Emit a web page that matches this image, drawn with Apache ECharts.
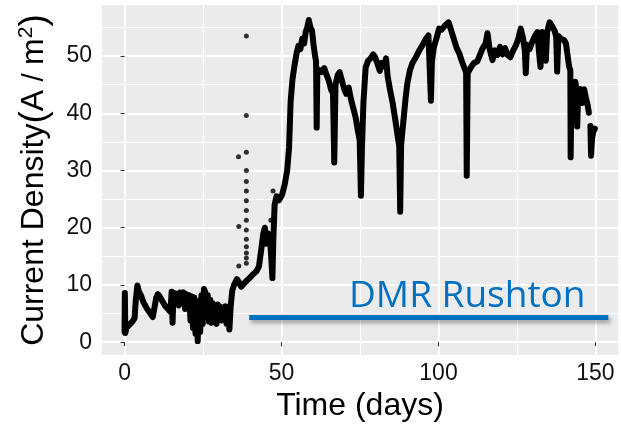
<!DOCTYPE html>
<html>
<head>
<meta charset="utf-8">
<script src="https://cdn.jsdelivr.net/npm/echarts@6/dist/echarts.min.js"></script>
<style>
html,body{margin:0;padding:0;background:#fff;}
#chart{width:621px;height:427px;}
</style>
</head>
<body>
<div id="chart"></div>
<script>
// ---- data ----
const xTicks = [0, 50, 100, 150];
const yTicks = [0, 10, 20, 30, 40, 50];
const xRange = [-7.5, 157.5];
const yRange = [-2.43, 59.1];

// main current-density trace [day, A/m2]
const mainSeries = [
 [0,1.8],[0.1,8.6],[0.25,1.6],[0.6,2.5],[1.2,2.4],[1.8,3.2],[2.5,3.6],[3.2,4.2],[3.6,7.5],[4.1,9.9],[4.6,8.8],[5.2,8.2],
 [6,7],[7,6],[8,5.2],[9,4.4],[9.6,4.6],[10.1,7.8],[10.6,8.4],[11.2,8],[12,7.2],[13,6.3],[14,5.7],[14.6,5.3],
 [15,8.8],[15.3,3.4],[15.6,8.6],[16.2,8.9],[16.8,8.4],[17.3,6.4],[17.7,8.7],[18.3,7.6],[18.8,8.7],[19.3,5.8],[19.7,8.4],
 [20.2,6.8],[20.6,8.2],[21,3.8],[21.4,8.0],[21.8,2.5],[22.2,7.8],[22.6,1.5],[23,6.5],[23.3,0.2],[23.7,7.2],[24.1,1.8],
 [24.5,8.2],[24.9,3.2],[25.3,9.3],[25.7,8.8],[26.1,4.8],[26.5,8.2],[26.9,3.6],[27.3,7.4],[27.7,3.4],[28.1,6.8],[28.5,4.2],
 [28.9,6.4],[29.3,3.2],[29.7,6.6],[30.1,4.6],[30.5,6.2],[30.9,3.8],[31.3,5.8],[31.7,4.4],[32.1,6.3],[32.5,3.2],[32.9,5.5],
 [33.4,2.2],[33.8,6.2],[34.3,9],[35,10.2],[35.8,11],[36.3,10.6],[37.2,9.7],[38,10.2],[39,10.8],[40,11.3],[41,11.9],
 [42,12.4],[42.8,13.2],[43.5,16],[44.2,19],[44.7,20],[45.2,17.2],[45.7,19],[46.3,18.4],[46.7,15],[47.1,11.2],[47.4,18],
 [47.8,24],[48.4,25.5],[49.2,24.8],[50.2,25.8],[51,27.5],[51.8,30],[52.4,34],[52.9,42],[53.5,46],[54.1,48.2],[54.8,50.5],
 [55.4,51.8],[56,51.2],[56.6,53],[57.2,52.2],[57.7,54.2],[58.2,55],[58.7,56.3],[59.2,55],[59.7,54.5],[60.2,52],[60.7,50],
 [61,49],[61.2,37.5],[61.4,47],[62,47.6],[62.8,47.2],[63.6,47.9],[64.3,46.8],[65,45.8],[65.8,44.1],[66.4,43.5],[66.8,31.4],
 [67.2,45],[67.9,46.7],[68.5,47.2],[69.2,45.8],[70,44.2],[70.6,43.4],[71.4,44.5],[72.1,42.5],[72.8,41],[73.6,39.3],[74.3,37],
 [74.9,35.3],[75.3,25.6],[75.6,33.5],[76.1,42],[76.8,48],[77.6,49.2],[78.4,49.6],[79.2,50.3],[79.8,49.8],[80.6,48.6],
 [81.3,47.4],[81.8,48.8],[82.6,48.2],[83.3,49.6],[83.8,46.5],[84.6,44],[85.4,41.8],[86.2,39],[87,36],[87.5,34.3],[87.8,22.8],
 [88.1,34.5],[88.8,38.5],[89.5,42.5],[90.1,45.3],[90.9,47.5],[91.7,48.8],[92.8,49.8],[93.9,51],[94.8,51.8],[95.8,52.8],
 [96.8,53.6],[97.3,53.3],[97.6,42.2],[97.9,49],[98.5,51.5],[99.2,52.8],[100.2,54.8],[101,54.6],[102,55.3],[103.2,55.9],
 [104,54.6],[105,52.8],[105.8,51.4],[106.6,50.5],[107.5,49],[108.2,48],[108.8,47.2],[109,29.1],[109.3,47],[110.3,48],
 [111.3,48.8],[112.4,49.1],[113.2,50.2],[114.1,51.4],[115,52.2],[115.6,54],[116.3,51.2],[117.2,49.3],[118,51],[118.8,50.2],
 [119.6,51.6],[120.4,50.3],[121.2,51.4],[122,50.2],[122.9,49.8],[123.8,51],[124.6,51.8],[125.4,53],[126.2,54.8],[126.9,53.2],
 [127.5,51],[127.8,47],[128.2,52],[129,51.2],[129.8,52.4],[130.6,53.4],[131.5,54.2],[132,50.8],[132.5,48.1],[133,54.2],
 [133.6,53.2],[134.2,49.2],[134.6,54.2],[135.4,55.9],[136.2,55.2],[137,54.4],[137.5,53.4],[137.8,47.3],[138.2,53.5],[139,53],
 [140,52.8],[140.6,52.2],[141.1,50.2],[141.6,48.2],[142,47.5],[142.1,32.3],[142.4,45],[143,42.5],[143.6,45.5],[144,44],
 [144.2,37.7],[144.5,43.8],[145.2,44.2],[145.8,41.8],[146.4,44.2],[147,42.6],[147.5,41.5],[147.9,40.1],[148.1,'-'],
 [148.4,37.8],[148.6,32.6],[148.9,35.5],[149.3,36.8],[149.8,37.3]
];

// isolated readings
const outlierDays =    [38.8,38.8,38.8,38.8,38.8,38.8,38.8,38.8,38.8,38.8,38.8,38.8,38.8,38.8,38.8,36.3,36.4,36.4,46.6,47.3];
const outlierDensity = [53.5,39.6,33.2,30.0,28.1,26.4,24.7,23.0,21.3,19.6,18.0,16.7,15.6,14.7,13.8,32.4,20.2,13.3,21.3,26.4];

// DMR Rushton reference level
const rushtonDays = [39.7, 154.1];
const rushtonLevel = [4.33, 4.33];
const rushtonLabel = 'DMR Rushton';

// ---- chart ----
const chart = echarts.init(document.getElementById('chart'));

const labelColor = '#111';
const font = '"Liberation Sans", Arial, sans-serif';
const majorGrid = {show: true, lineStyle: {color: '#FFFFFF', width: 2}};
const minorGrid = {show: true, lineStyle: {color: '#FFFFFF', width: 1}};
const only = list => v => (list.indexOf(Math.round(v * 1000) / 1000) >= 0 ? String(v) : '');

chart.setOption({
  animation: false,
  grid: {left: 101, right: 2, top: 4, bottom: 68, show: true, backgroundColor: '#EBEBEB', borderWidth: 0},
  xAxis: {
    type: 'value', min: xRange[0], max: xRange[1], splitNumber: 3,
    name: 'Time (days)', nameLocation: 'middle', nameGap: 32,
    nameTextStyle: {fontSize: 32, color: '#000', fontFamily: font},
    axisLine: {show: false},
    axisTick: {show: true, length: 4, lineStyle: {color: '#333', width: 1.1}},
    axisLabel: {fontSize: 23, color: labelColor, fontFamily: font, margin: 6,
                showMinLabel: false, showMaxLabel: false, formatter: only(xTicks)},
    splitLine: majorGrid,
    minorTick: {show: false, splitNumber: 2},
    minorSplitLine: minorGrid
  },
  yAxis: {
    type: 'value', min: yRange[0], max: yRange[1], splitNumber: 5,
    name: 'Current Density{p|(}A{sl| / }m{sup|2}{p|)}', nameLocation: 'middle', nameGap: 48, nameRotate: 90,
    nameTextStyle: {
      fontSize: 32, color: '#000', fontFamily: font,
      rich: {
        p: {fontSize: 37, color: '#000', fontFamily: font},
        sl: {fontSize: 30, color: '#000', fontFamily: font, fontWeight: 'lighter'},
        sup: {fontSize: 21, color: '#000', fontFamily: font, verticalAlign: 'top', padding: [0, 0, 10, 0]}
      }
    },
    axisLine: {show: false},
    axisTick: {show: true, length: 4, lineStyle: {color: '#333', width: 1.1}},
    axisLabel: {fontSize: 23, color: labelColor, fontFamily: font, margin: 9,
                showMinLabel: false, showMaxLabel: false, formatter: only(yTicks)},
    splitLine: majorGrid,
    minorTick: {show: false, splitNumber: 2},
    minorSplitLine: minorGrid
  },
  graphic: [{
    type: 'text', left: 349, top: 278, z: 10,
    style: {text: rushtonLabel, fill: '#0070C0', font: '37px "Open Sans", "Noto Sans", sans-serif'}
  }],
  series: [
    {
      type: 'line', data: mainSeries, z: 3, symbol: 'none',
      lineStyle: {color: '#000', width: 6, cap: 'round', join: 'round'}
    },
    {
      type: 'scatter', z: 3, symbolSize: 5,
      data: outlierDays.map((d, i) => [d, outlierDensity[i]]),
      itemStyle: {color: '#000'}
    },
    {
      type: 'line', z: 4, symbol: 'none',
      data: rushtonDays.map((d, i) => [d, rushtonLevel[i]]),
      lineStyle: {color: '#0070C0', width: 5, shadowColor: 'rgba(0,0,0,0.35)', shadowBlur: 4, shadowOffsetX: 2, shadowOffsetY: 3}
    }
  ]
});
</script>
</body>
</html>
